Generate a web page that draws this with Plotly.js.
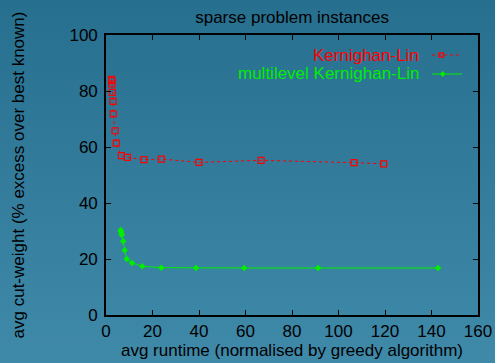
<!DOCTYPE html>
<html>
<head>
<meta charset="utf-8">
<script src="https://cdn.plot.ly/plotly-3.0.1.min.js"></script>
<style>
html,body{margin:0;padding:0;}
body{width:495px;height:363px;background:linear-gradient(to bottom,#276f8f 0%,#3f89a9 100%);}
#chart{width:495px;height:363px;}
</style>
</head>
<body>
<div id="chart"></div>
<script>
// Kernighan-Lin
const klRuntime = [2.4, 2.45, 2.5, 2.7, 3.0, 3.1, 3.9, 4.4, 6.6, 9.2, 16.3, 23.8, 40.0, 66.7, 106.7, 119.4];
const klCut     = [84.2, 83.7, 82.5, 79.5, 76.3, 71.8, 65.8, 61.4, 56.9, 56.3, 55.5, 55.7, 54.5, 55.25, 54.4, 54.0];
// multilevel Kernighan-Lin
const mlRuntime = [6.3, 6.45, 6.6, 6.75, 7.4, 8.0, 8.9, 11.2, 15.6, 23.8, 38.7, 59.4, 91.2, 142.8];
const mlCut     = [30.4, 29.8, 29.2, 28.6, 26.3, 23.1, 20.0, 18.6, 17.4, 16.9, 16.8, 16.8, 16.8, 16.8];

const xTicks = [0, 20, 40, 60, 80, 100, 120, 140, 160];
const yTicks = [0, 20, 40, 60, 80, 100];
const seriesNames = ['Kernighan-Lin', 'multilevel Kernighan-Lin'];
const red = '#ff0000', green = '#00ee00';

const traces = [
  {x: klRuntime, y: klCut, name: seriesNames[0], type: 'scatter', mode: 'lines+markers',
   line: {color: red, width: 1, dash: 'dot'},
   marker: {symbol: 'square-open', size: 6, color: red, line: {width: 1.2, color: red}}},
  {x: mlRuntime, y: mlCut, name: seriesNames[1], type: 'scatter', mode: 'lines+markers',
   line: {color: green, width: 1},
   marker: {symbol: 'diamond', size: 5, color: green}}
];

const axisCommon = {
  showgrid: false, zeroline: false, showline: true, linecolor: '#000', linewidth: 1.8,
  mirror: 'ticks', ticks: 'inside', ticklen: 5, tickcolor: '#000', tickwidth: 1,
  automargin: false,
  tickfont: {family: 'Liberation Sans, Arial, sans-serif', size: 17, color: '#000'}
};

const layout = {
  width: 495, height: 363,
  margin: {l: 106, r: 17, t: 35, b: 48},
  paper_bgcolor: 'rgba(0,0,0,0)', plot_bgcolor: 'rgba(0,0,0,0)',
  showlegend: false,
  font: {family: 'Liberation Sans, Arial, sans-serif', color: '#000'},
  title: {text: 'sparse problem instances', font: {size: 17, color: '#000'}, x: 0.59, xanchor: 'center', y: 0.953, yanchor: 'middle'},
  xaxis: Object.assign({}, axisCommon, {range: [0, 160], tickvals: xTicks, ticktext: xTicks.map(String),
    title: {text: 'avg runtime (normalised by greedy algorithm)', font: {size: 17}, standoff: 0}}),
  yaxis: Object.assign({}, axisCommon, {range: [0, 100], tickvals: yTicks, ticktext: yTicks.map(String),
    ticklabelstandoff: 3,
    title: {text: 'avg cut-weight (% excess over best known)', font: {size: 17}, standoff: 40}}),
  annotations: [
    {xref: 'paper', yref: 'paper', x: (421 - 106) / 372, y: (315 - 55.5) / 280, xanchor: 'right', yanchor: 'middle',
     text: seriesNames[0], showarrow: false, font: {size: 17, color: red}},
    {xref: 'paper', yref: 'paper', x: (421 - 106) / 372, y: (315 - 74) / 280, xanchor: 'right', yanchor: 'middle',
     text: seriesNames[1], showarrow: false, font: {size: 17, color: green}}
  ],
  shapes: [
    {type: 'line', xref: 'paper', yref: 'paper', x0: (432 - 106) / 372, x1: (460 - 106) / 372,
     y0: (315 - 55) / 280, y1: (315 - 55) / 280, line: {color: red, width: 1, dash: 'dot'}},
    {type: 'rect', xref: 'paper', yref: 'paper', x0: (439 - 106) / 372, x1: (443.5 - 106) / 372,
     y0: (315 - 57.2) / 280, y1: (315 - 52.8) / 280, line: {color: red, width: 1.2}},
    {type: 'line', xref: 'paper', yref: 'paper', x0: (432 - 106) / 372, x1: (462 - 106) / 372,
     y0: (315 - 74) / 280, y1: (315 - 74) / 280, line: {color: green, width: 1}},
    {type: 'path', xref: 'paper', yref: 'paper',
     path: 'M ' + ((442.7 - 106) / 372) + ' ' + ((315 - 71) / 280) + ' L ' + ((445.5 - 106) / 372) + ' ' + ((315 - 74) / 280) +
           ' L ' + ((442.7 - 106) / 372) + ' ' + ((315 - 77) / 280) + ' L ' + ((439.9 - 106) / 372) + ' ' + ((315 - 74) / 280) + ' Z',
     fillcolor: green, line: {color: green, width: 0}}
  ]
};

Plotly.newPlot('chart', traces, layout, {displayModeBar: false, staticPlot: true});
</script>
</body>
</html>
